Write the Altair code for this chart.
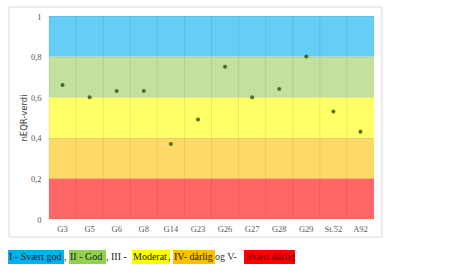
import altair as alt
import pandas as pd

# ---- data ----
stations = ["G3", "G5", "G6", "G8", "G14", "G23", "G26", "G27", "G28", "G29", "St.52", "A92"]
neqr = [0.66, 0.60, 0.63, 0.63, 0.37, 0.49, 0.75, 0.60, 0.64, 0.80, 0.53, 0.43]

band_low = [0.0, 0.2, 0.4, 0.6, 0.8]
band_high = [0.2, 0.4, 0.6, 0.8, 1.0]
band_color = ["#ff6666", "#ffd966", "#ffff66", "#c3e19d", "#66cdf5"]

legend_text = ["I - Svært god", ",", "II - God", ", III - ", "Moderat", ",", "IV- dårlig", " og V- ", "Svært dårlig"]
legend_bg = ["#00b0f0", "", "#92d050", "", "#ffff00", "", "#ffc000", "", "#ff0000"]
legend_fg = ["#1a1a1a", "#1a1a1a", "#1a1a1a", "#1a1a1a", "#1a1a1a", "#1a1a1a", "#1a1a1a", "#333333", "#5c0000"]

# ---- layout (pixels relative to plot area) ----
W, H = 325, 203
PAD = {"left": 49, "top": 16, "right": 470 - 49 - W, "bottom": 275 - 16 - H}
legend_x0 = [8, 64, 69, 106, 132, 168, 173, 215, 244]
legend_x1 = [64, 69, 106, 132, 170, 173, 215, 244, 295]
legend_tx = [9, 64, 70, 106, 133, 168, 174, 215, 246]

pts = pd.DataFrame({"station": stations, "v": neqr})
bands = pd.DataFrame({"lo": band_low, "hi": band_high, "c": band_color})
leg = pd.DataFrame({
    "t": legend_text, "bg": legend_bg, "fg": legend_fg,
    "x0": [x - PAD["left"] for x in legend_x0],
    "x1": [x - PAD["left"] for x in legend_x1],
    "tx": [x - PAD["left"] for x in legend_tx],
})
leg_bg = leg[leg["bg"] != ""]

serif = "Liberation Serif"
yscale = alt.Scale(domain=[0, 1], nice=False)
xscale = alt.Scale(domain=stations, paddingInner=0, paddingOuter=0)
xaxis = alt.Axis(
    title=None, labelAngle=0, domain=False, ticks=False, grid=False,
    labelFont=serif, labelFontSize=8.5, labelColor="#595959", labelPadding=5, zindex=1,
)

frame = alt.Chart(pd.DataFrame({"a": [0]})).mark_rect(
    fillOpacity=0, stroke="#d9d9d9", strokeWidth=1
).encode(
    x=alt.value(9 - PAD["left"]), x2=alt.value(382 - PAD["left"]),
    y=alt.value(7 - PAD["top"]), y2=alt.value(237 - PAD["top"]),
)

band_layer = alt.Chart(bands).mark_rect().encode(
    y=alt.Y("lo:Q", scale=yscale, axis=alt.Axis(
        title="nEQR-verdi", values=[0, 0.2, 0.4, 0.6, 0.8, 1.0],
        labelExpr="datum.value == 0 ? '0' : datum.value == 1 ? '1' : replace(format(datum.value, '.1f'), '.', ',')",
        domain=False, ticks=False, grid=True, gridColor="#000000", gridOpacity=0.06,
        labelFont=serif, labelFontSize=8.5, labelColor="#595959", labelPadding=8,
        titleFont="DejaVu Sans", titleFontSize=8.5, titleFontWeight="normal", titleColor="#404040",
        titleX=-21, titleY=H / 2, zindex=1,
    )),
    y2="hi:Q",
    color=alt.Color("c:N", scale=None),
)

grid_layer = alt.Chart(pts).mark_rule(color="#000000", opacity=0.08, strokeWidth=1).encode(
    x=alt.X("station:N", scale=xscale, bandPosition=0, sort=stations, axis=xaxis),
)

point_layer = alt.Chart(pts).mark_circle(size=16, color="#2f5a14", opacity=0.85).encode(
    x=alt.X("station:N", scale=xscale, sort=stations, axis=xaxis),
    y=alt.Y("v:Q", scale=yscale),
)

leg_rect = alt.Chart(leg_bg).mark_rect().encode(
    x=alt.X("x0:Q", scale=None), x2="x1:Q",
    y=alt.value(250 - PAD["top"]), y2=alt.value(264 - PAD["top"]),
    color=alt.Color("bg:N", scale=None),
)
leg_text = alt.Chart(leg).mark_text(
    align="left", baseline="middle", font=serif, fontSize=10
).encode(
    x=alt.X("tx:Q", scale=None),
    y=alt.value(257 - PAD["top"]),
    text="t:N",
    color=alt.Color("fg:N", scale=None),
)

chart = alt.layer(frame, band_layer, grid_layer, point_layer, leg_rect, leg_text).properties(
    width=W, height=H, padding=PAD, autosize=alt.AutoSizeParams(type="none"),
    background="white",
).configure_view(stroke=None).configure_axis(labelOverlap=False)

chart.save("out.html", embed_options={"renderer": "svg", "actions": False})
